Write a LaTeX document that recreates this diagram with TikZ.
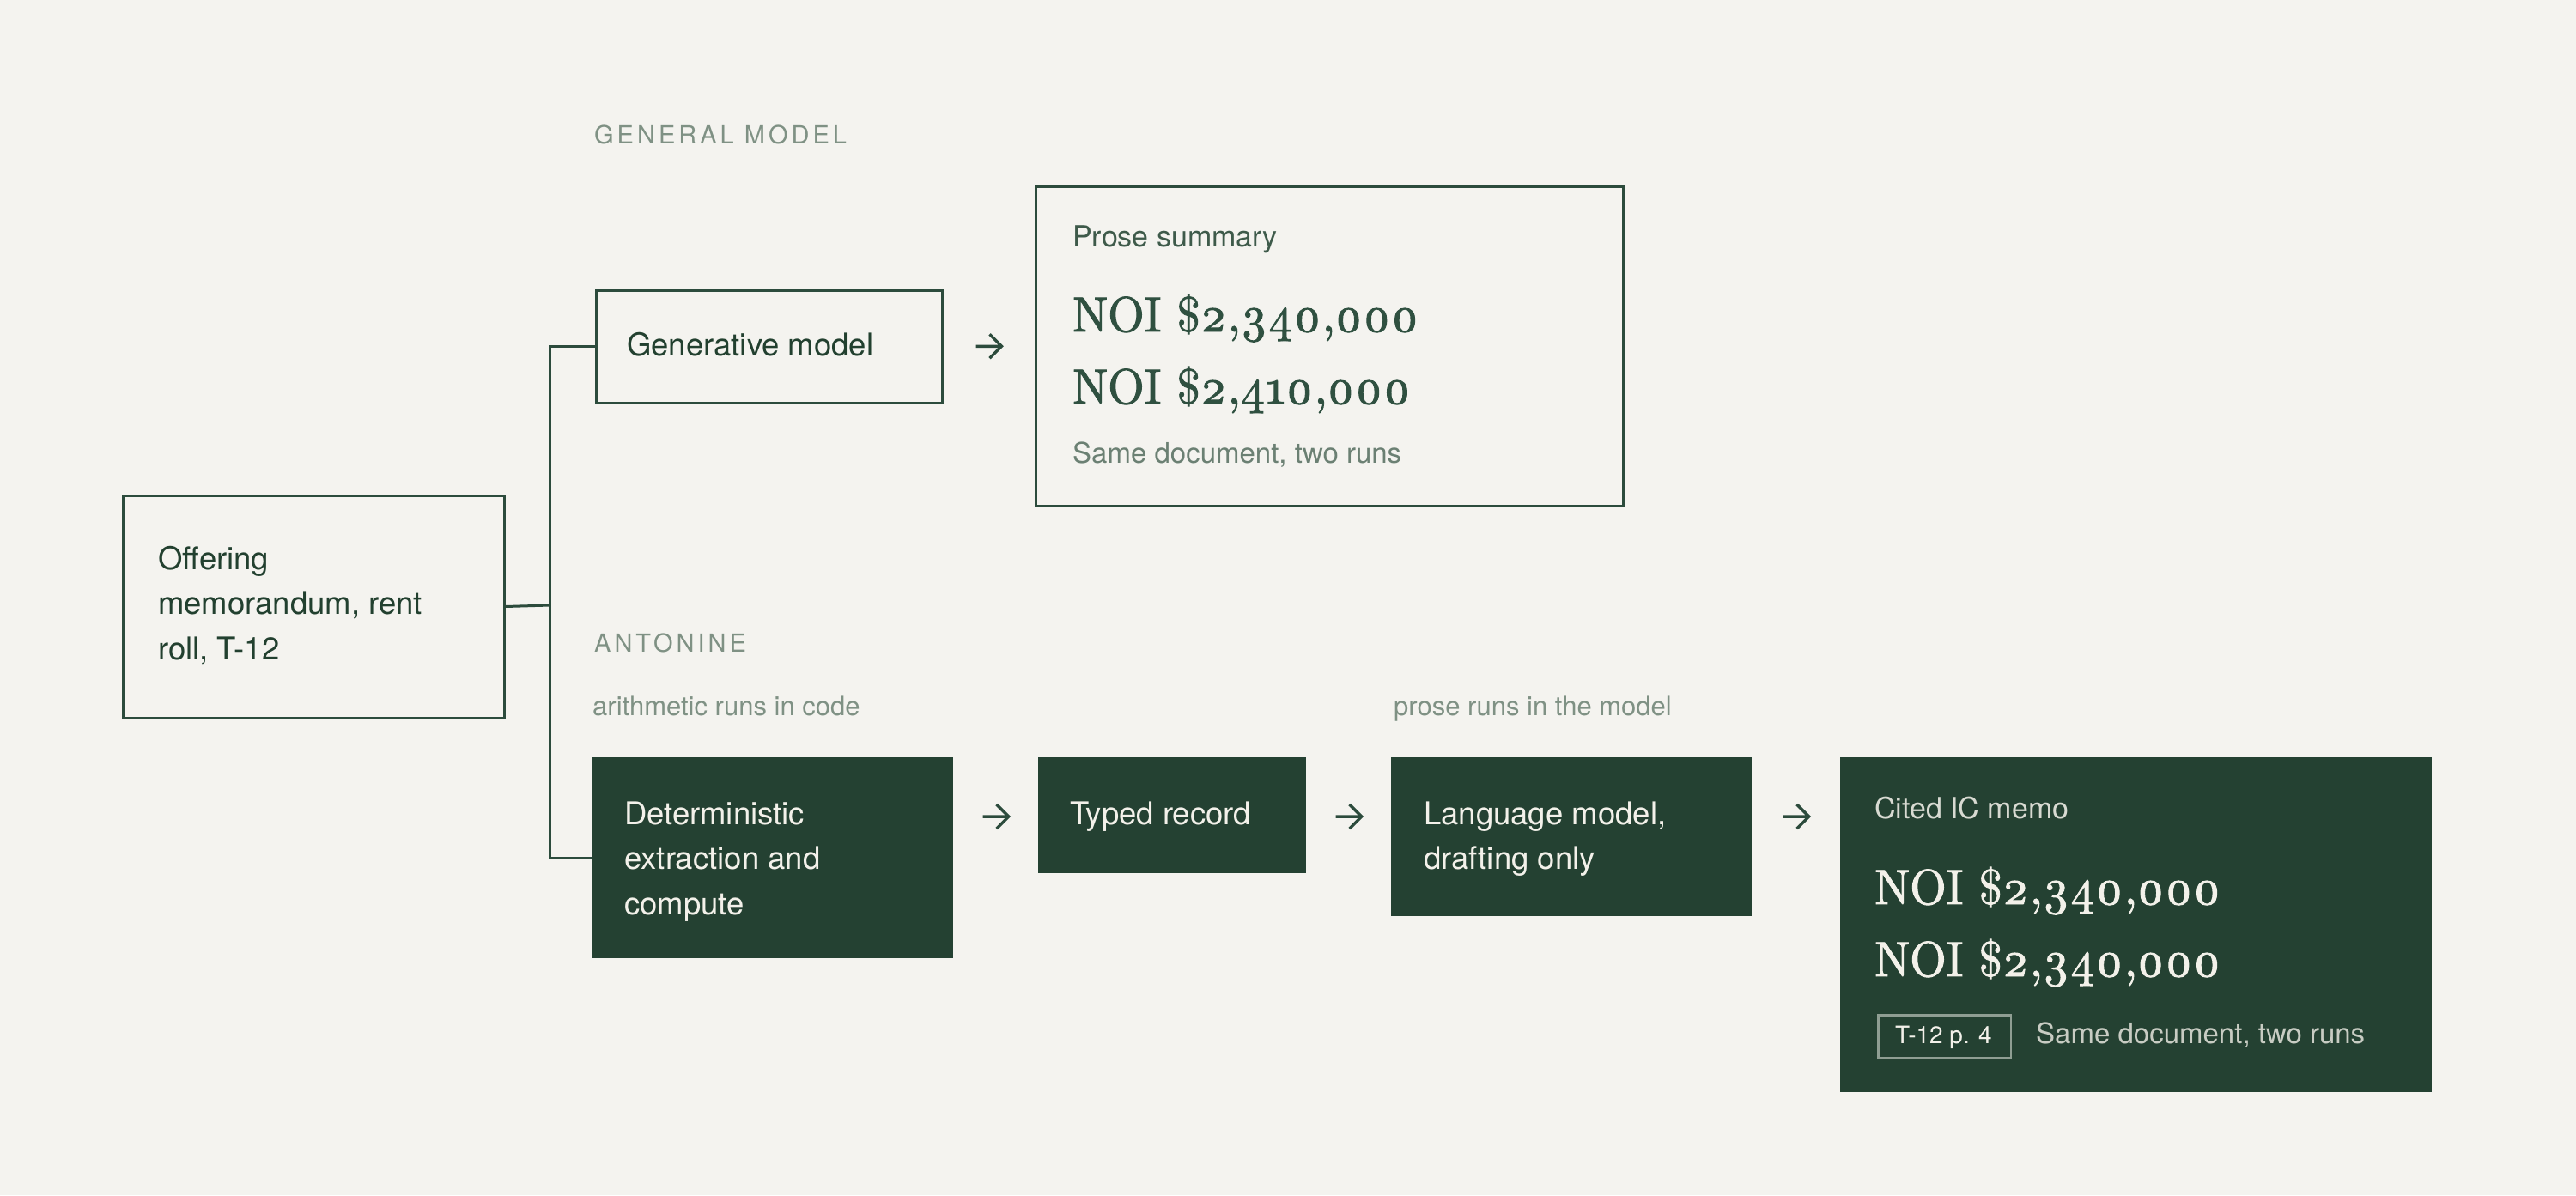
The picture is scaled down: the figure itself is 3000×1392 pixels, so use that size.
\documentclass[tikz,border=0pt]{standalone}
\usepackage{fontspec}
\usetikzlibrary{calc}
\setmainfont{Latin Modern Roman}
\newfontfamily\sansf{TeX Gyre Heros}
\newfontfamily\labelf{TeX Gyre Heros}[LetterSpace=13.8]
\newfontfamily\serifd{lmroman10-regular}[Extension=.otf, FakeBold=1.6, FakeStretch=0.95]
\font\osdfont=cmmi10 at 57pt
\def\odg#1{\ifcase#1\relax
  \XeTeXglyph\XeTeXglyphindex "zero.oldstyle" \or
  \XeTeXglyph\XeTeXglyphindex "one.oldstyle" \or
  \XeTeXglyph\XeTeXglyphindex "two.oldstyle" \or
  \XeTeXglyph\XeTeXglyphindex "three.oldstyle" \or
  \XeTeXglyph\XeTeXglyphindex "four.oldstyle" \or
  \XeTeXglyph\XeTeXglyphindex "five.oldstyle" \or
  \XeTeXglyph\XeTeXglyphindex "six.oldstyle" \or
  \XeTeXglyph\XeTeXglyphindex "seven.oldstyle" \or
  \XeTeXglyph\XeTeXglyphindex "eight.oldstyle" \or
  \XeTeXglyph\XeTeXglyphindex "nine.oldstyle" \fi}
\def\odloop#1{\ifx#1\relax\else\odg{#1}\expandafter\odloop\fi}
\newcommand\od[1]{\ifnum\XeTeXglyphindex "zero.oldstyle" >0 \odloop#1\relax\else{\osdfont #1}\fi}
\definecolor{bg}{HTML}{F4F3EF}
\definecolor{darkg}{HTML}{244132}
\definecolor{strokeg}{HTML}{2C4B3C}
\definecolor{ink}{HTML}{22402F}
\definecolor{proseink}{HTML}{3E5A4A}
\definecolor{bigink}{HTML}{2F5040}
\definecolor{smallink}{HTML}{6B8073}
\definecolor{hdrg}{HTML}{7F9184}
\definecolor{cream}{HTML}{F3F1EA}
\definecolor{creamdim}{HTML}{D8DAD2}
\definecolor{creamsm}{HTML}{C8CCC3}
\definecolor{tagline}{HTML}{8F9E93}
\tikzset{
  lbox/.style={rectangle, draw=strokeg, line width=3pt, inner sep=0pt, anchor=north west},
  dbox/.style={rectangle, fill=darkg, draw=none, inner sep=0pt, anchor=north west},
  tagbox/.style={rectangle, draw=tagline, line width=2.5pt, inner sep=0pt, anchor=north west},
  txtbase/.style={anchor=base west, inner sep=0pt},
  body/.style={txtbase, font=\sansf\fontsize{36.5}{52.5}\selectfont, text=ink},
  bodyd/.style={body, text=cream},
  hdr/.style={txtbase, font=\labelf\fontsize{29}{34}\selectfont, text=hdrg},
  note/.style={txtbase, font=\sansf\fontsize{31}{36}\selectfont, text=hdrg},
  boxcap/.style={txtbase, font=\sansf\fontsize{34}{40}\selectfont},
  smalltxt/.style={txtbase, font=\sansf\fontsize{33}{38}\selectfont},
  tagtxt/.style={txtbase, font=\sansf\fontsize{28}{32}\selectfont, text=cream},
  big/.style={txtbase, font=\serifd\fontsize{57.5}{62}\selectfont},
  conn/.style={draw=strokeg, line width=3pt},
  arrowline/.style={draw=strokeg, line width=3.5pt, line cap=butt, line join=miter},
  arrowg/.pic={\draw[arrowline] (-15,0) -- (15,0) (1,-14) -- (15,0) -- (1,14);}
}
\begin{document}
\begin{tikzpicture}[x=1pt,y=-1pt]
\fill[bg] (0,0) rectangle (3000,1392);
\useasboundingbox (0,0) rectangle (3000,1392);

% boxes
\node[lbox, minimum width=444pt, minimum height=259pt] (off) at (141.5,575.5) {};
\node[lbox, minimum width=403pt, minimum height=131pt] (gen) at (692.5,336.5) {};
\node[lbox, minimum width=684pt, minimum height=372pt] (prose) at (1204.5,215.5) {};
\node[dbox, minimum width=420pt, minimum height=234pt] (det) at (690,882) {};
\node[dbox, minimum width=312pt, minimum height=135pt] (typed) at (1209,882) {};
\node[dbox, minimum width=420pt, minimum height=185pt] (lang) at (1620,882) {};
\node[dbox, minimum width=689pt, minimum height=390pt] (cited) at (2143,882) {};
\node[tagbox, minimum width=154.5pt, minimum height=49.5pt] (tag) at (2186.25,1181.25) {};

% connectors
\coordinate (jn) at (640,705);
\draw[conn] (off.east) -- (jn);
\draw[conn] (gen.west) -| (jn);
\draw[conn] (det.west) -| (jn);

% arrows
\pic at ($(gen.east)!0.5!(prose.west)$) {arrowg};
\pic at ($(det.north east)!0.5!(typed.north west)+(0,69)$) {arrowg};
\pic at ($(typed.north east)!0.5!(lang.north west)+(0,69)$) {arrowg};
\pic at ($(lang.north east)!0.5!(cited.north west)+(0,69)$) {arrowg};

% section labels
\node[hdr] (hgen) at (692,167) {GENERAL MODEL};
\node[hdr] (hant) at (692,759) {ANTONINE};
\node[note] (n1) at (690,833) {arithmetic runs in code};
\node[note] (n2) at (1623,833) {prose runs in the model};

% texts upper
\node[body] (toff) at (184,663) {\vtop{\hbox{Offering}\hbox{memorandum, rent}\hbox{roll, T-12}}};
\node[body] (tgen) at (730,414) {Generative model};
\node[boxcap, text=proseink] (tpro) at (1249,287) {Prose summary};
\node[big, text=bigink] (tnoia) at (1249,386) {NOI \$\od{2},\od{340},\od{000}};
\node[big, text=bigink] (tnoib) at (1249,470) {NOI \$\od{2},\od{410},\od{000}};
\node[smalltxt, text=smallink] (tsame) at (1249,539) {Same document, two runs};

% texts lower
\node[bodyd] (tdet) at (727,960) {\vtop{\hbox{Deterministic}\hbox{extraction and}\hbox{compute}}};
\node[bodyd] (ttyp) at (1246,960) {Typed record};
\node[bodyd] (tlang) at (1658,960) {\vtop{\hbox{Language model,}\hbox{drafting only}}};
\node[boxcap, text=creamdim] (tcit) at (2183,953) {Cited IC memo};
\node[big, text=cream] (tnoic) at (2183,1053) {NOI \$\od{2},\od{340},\od{000}};
\node[big, text=cream] (tnoid) at (2183,1137) {NOI \$\od{2},\od{340},\od{000}};
\node[tagtxt] (ttag) at (2207,1215) {T-12 p. 4};
\node[smalltxt, text=creamsm] (tsame2) at (2371,1215) {Same document, two runs};
\end{tikzpicture}
\end{document}
